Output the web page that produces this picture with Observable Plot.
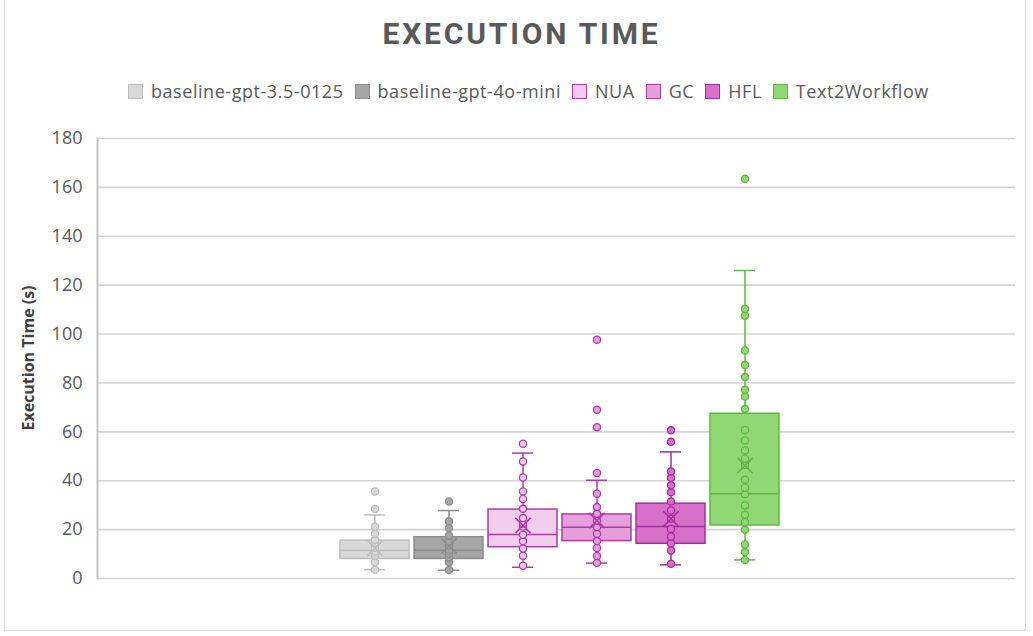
<!DOCTYPE html>
<html>
<head>
<meta charset="utf-8">
<script src="https://cdn.jsdelivr.net/npm/d3@7"></script>
<script src="https://cdn.jsdelivr.net/npm/@observablehq/plot@0.6"></script>
<style>
  html, body { margin: 0; padding: 0; background: #fff; }
  #wrap { position: relative; width: 1033px; height: 636px; overflow: hidden; font-family: "Open Sans", sans-serif; }
  #border { position: absolute; left: 4px; top: -2px; width: 1022px; height: 633px; border: 1px solid #d9d9d9; box-sizing: border-box; }
  #title { position: absolute; left: 0; width: 1033px; top: 16px; text-align: center; font-family: Roboto, sans-serif; font-weight: 700; font-size: 30px; letter-spacing: 2.8px; color: #595959; padding-left: 10px; box-sizing: border-box; }
  #legend { position: absolute; left: 128px; top: 79px; display: flex; align-items: center; font-size: 18px; letter-spacing: 0.55px; color: #595959; white-space: nowrap; }
  .item { display: flex; align-items: center; margin-right: 11px; }
  .sw { width: 13px; height: 13px; border: 1px solid; margin-right: 8px; }
  #ylabel { position: absolute; left: 28px; top: 358px; transform: translate(-50%, -50%) rotate(-90deg); font-size: 16px; font-weight: 700; color: #404040; white-space: nowrap; }
  #chart { position: absolute; left: 0; top: 120px; }
</style>
</head>
<body>
<div id="wrap">
  <div id="border"></div>
  <div id="title">EXECUTION TIME</div>
  <div id="legend"></div>
  <div id="ylabel">Execution Time (s)</div>
  <div id="chart"></div>
</div>
<script>
// Series
const series = ["baseline-gpt-3.5-0125", "baseline-gpt-4o-mini", "NUA", "GC", "HFL", "Text2Workflow"];
const fills   = ["#d9d9d9", "#a6a6a6", "#f2cdee", "#e49fdc", "#d870cb", "#8fd873"];
const strokes = ["#bdbdbd", "#8c8c8c", "#b13aa6", "#b13aa6", "#a42f9a", "#63b545"];

// Box statistics
const q1          = [8.0, 8.0, 12.8, 15.3, 14.2, 21.7];
const median      = [11.5, 11.6, 18.0, 21.0, 21.3, 34.7];
const q3          = [15.5, 16.9, 28.2, 26.2, 30.6, 67.4];
const whiskerLow  = [3.6, 3.4, 4.6, 6.3, 5.6, 7.6];
const whiskerHigh = [26.0, 27.8, 51.3, 40.2, 51.8, 126.0];
const mean        = [12.4, 13.3, 21.7, 23.7, 24.4, 46.2];

// Individual points
const pts_gpt35 = [3.6, 6.7, 9.4, 11.0, 12.6, 14.5, 15.8, 18.3, 21.2, 28.4, 35.6];
const pts_gpt4o = [3.5, 6.7, 8.7, 10.1, 11.5, 13.5, 14.9, 17.6, 20.7, 23.4, 31.5];
const pts_nua   = [5.2, 9.3, 12.3, 15.3, 17.9, 21.3, 22.5, 24.7, 28.5, 32.5, 35.6, 41.3, 47.9, 55.1];
const pts_gc    = [6.4, 9.2, 12.5, 15.3, 18.3, 21.0, 23.7, 26.5, 29.2, 34.7, 43.2, 61.9, 69.0, 97.7];
const pts_hfl   = [6.0, 11.5, 14.4, 17.2, 20.3, 24.4, 27.8, 31.5, 35.3, 38.1, 41.2, 43.8, 55.9, 60.6];
const pts_t2w   = [7.6, 10.8, 13.9, 19.9, 23.1, 26.1, 29.9, 34.5, 37.1, 40.4, 46.5, 49.0, 52.4, 56.5, 60.8, 69.3, 74.5, 77.2, 82.4, 87.3, 93.3, 107.5, 110.3, 163.5];
const allPoints = [pts_gpt35, pts_gpt4o, pts_nua, pts_gc, pts_hfl, pts_t2w];

const yTicks = [0, 20, 40, 60, 80, 100, 120, 140, 160, 180];

// Build tables
const stats = series.map((name, i) => ({
  name, fill: fills[i], stroke: strokes[i],
  q1: q1[i], median: median[i], q3: q3[i], lo: whiskerLow[i], hi: whiskerHigh[i], mean: mean[i]
}));
const points = series.flatMap((name, i) => allPoints[i].map(v => ({name, v, fill: fills[i], stroke: strokes[i]})));

// Legend
const legend = document.getElementById("legend");
series.forEach((name, i) => {
  const it = document.createElement("div");
  it.className = "item";
  it.innerHTML = `<div class="sw" style="background:${fills[i]};border-color:${strokes[i]}"></div><span>${name}</span>`;
  legend.appendChild(it);
});

const chart = Plot.plot({
  width: 1033,
  height: 488,
  marginTop: 18,
  marginBottom: 30,
  marginLeft: 97,
  marginRight: 18,
  style: { fontFamily: "Open Sans, sans-serif", fontSize: "18px", color: "#595959", background: "transparent" },
  x: { domain: series, range: [338.5, 780], paddingInner: 0.074, paddingOuter: 0, axis: null },
  y: { domain: [0, 180], axis: null },
  marks: [
    Plot.ruleY(yTicks, { stroke: "#d4d4d4", strokeWidth: 1.6 }),
    Plot.axisY({ ticks: yTicks, tickSize: 0, tickPadding: 15, label: null, fill: "#595959", fontSize: 18 }),
    Plot.frame({ anchor: "left", stroke: "#c4c4c4", strokeWidth: 2 }),
    Plot.ruleX(stats, { x: "name", y1: "lo", y2: "hi", stroke: "stroke", strokeWidth: 1.5 }),
    Plot.tickY(stats, { x: "name", y: "lo", stroke: "stroke", strokeWidth: 1.5, insetLeft: 24, insetRight: 24 }),
    Plot.tickY(stats, { x: "name", y: "hi", stroke: "stroke", strokeWidth: 1.5, insetLeft: 24, insetRight: 24 }),
    Plot.barY(stats, { x: "name", y1: "q1", y2: "q3", fill: "fill", stroke: "stroke", strokeWidth: 1.5 }),
    Plot.tickY(stats, { x: "name", y: "median", stroke: "stroke", strokeWidth: 1.5 }),
    Plot.dot(points, { x: "name", y: "v", r: 3.6, fill: "fill", stroke: "stroke", strokeWidth: 1.3 }),
    Plot.dot(stats, { x: "name", y: "mean", symbol: "times", r: 7, stroke: "stroke", strokeWidth: 1.6 })
  ]
});
document.getElementById("chart").appendChild(chart);
</script>
</body>
</html>
